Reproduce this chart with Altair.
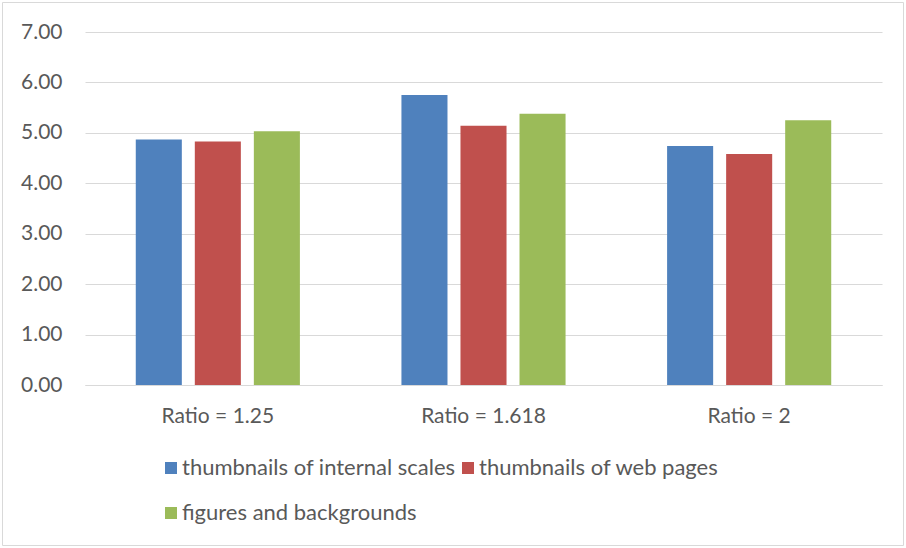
import altair as alt
import pandas as pd

groups = ["Ratio = 1.25", "Ratio = 1.618", "Ratio = 2"]
series = ["thumbnails of internal scales", "thumbnails of web pages", "figures and backgrounds"]
internal_scales = [4.87, 5.75, 4.74]
web_pages = [4.83, 5.14, 4.58]
figures_backgrounds = [5.03, 5.38, 5.25]
colors = ["#4F81BD", "#C0504D", "#9BBB59"]

rows = []
for i, g in enumerate(groups):
    for s, vals in zip(series, [internal_scales, web_pages, figures_backgrounds]):
        rows.append({"group": g, "series": s, "value": vals[i]})
df = pd.DataFrame(rows)

FONT = "Lato"
GRAY = "#595959"
FS = 21

bars = alt.Chart(df).mark_bar().encode(
    x=alt.X("group:N", sort=groups, title=None,
            scale=alt.Scale(paddingInner=0, paddingOuter=0),
            axis=alt.Axis(labelAngle=0, ticks=False, domainColor="#d9d9d9",
                          labelPadding=20, labelFontSize=FS, labelColor=GRAY,
                          labelFont=FONT, grid=False)),
    xOffset=alt.XOffset("series:N", sort=series,
                        scale=alt.Scale(paddingInner=0.22, paddingOuter=0.86)),
    y=alt.Y("value:Q", title=None,
            scale=alt.Scale(domain=[0, 7], nice=False),
            axis=alt.Axis(values=[0, 1, 2, 3, 4, 5, 6, 7], format=".2f",
                          domain=False, ticks=False, gridColor="#d9d9d9",
                          labelPadding=23, labelFontSize=FS, labelColor=GRAY,
                          labelFont=FONT)),
    color=alt.Color("series:N", sort=series, title=None,
                    scale=alt.Scale(domain=series, range=colors),
                    legend=alt.Legend(orient="none", legendX=75, legendY=425,
                                      direction="horizontal", padding=0,
                                      columns=2, columnPadding=1, rowPadding=23,
                                      symbolType="square", symbolSize=144,
                                      symbolStrokeWidth=0, labelFontSize=22,
                                      labelColor=GRAY, labelFont=FONT,
                                      labelLimit=0, labelOffset=0)),
)

border = alt.Chart(pd.DataFrame({"a": [0]})).mark_rect(
    fill=None, stroke="#d9d9d9", strokeWidth=1, clip=False
).encode(
    x=alt.value(-82.5), x2=alt.value(818.5),
    y=alt.value(-29.5), y2=alt.value(513.5),
)

chart = alt.layer(border, bars).properties(
    width=797, height=353,
    autosize=alt.AutoSizeParams(type="none"),
    padding={"left": 85, "top": 32, "right": 24, "bottom": 163},
    background="white",
).configure_view(stroke=None)

chart.save("out.html", embed_options={"renderer": "svg", "actions": False})
